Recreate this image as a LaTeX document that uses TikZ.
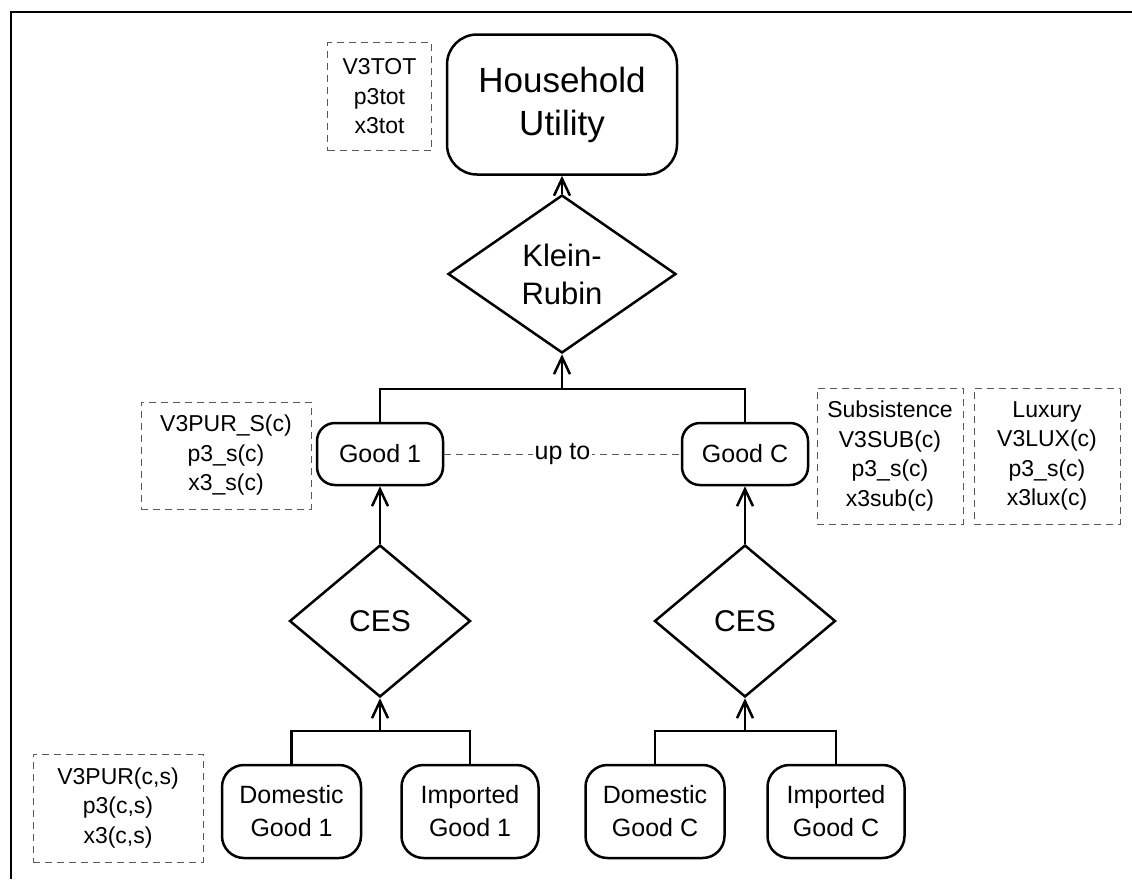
\documentclass[tikz,border=0pt]{standalone}
\usepackage{fontspec}
\setmainfont{Liberation Sans}
\usetikzlibrary{shapes.geometric,arrows.meta}

\tikzset{
  box/.style={draw, line width=2.5pt, rounded corners=18pt, align=center, inner sep=0pt},
  nest/.style={draw, diamond, line width=2.5pt, inner sep=0pt, align=center},
  info/.style={draw=black!65, line width=1pt, dash pattern=on 7pt off 5pt, align=center, inner sep=0pt,
    font=\fontsize{23}{29.5}\selectfont},
  link/.style={line width=2.5pt},
  >={Straight Barb[length=17pt,width=16pt,line width=2.5pt]}
}

\begin{document}
\begin{tikzpicture}[x=1pt,y=-1pt]
	\useasboundingbox (0,0) rectangle (1132,879);
	\draw[line width=2pt] (11,879) -- (11,12) -- (1132,12);

	% top level
	\node[box, rounded corners=30pt, minimum width=230pt, minimum height=140pt, font=\fontsize{35}{43}\selectfont] (util) at (562,104.5) {Household\\Utility};
	\node[info, minimum width=104pt, minimum height=108pt] (tot) at (379.5,96.5) {V3TOT\\p3tot\\x3tot};
	\node[nest, minimum width=228pt, minimum height=158pt, font=\fontsize{31}{38}\selectfont] (kr) at (562,274) {Klein-\\Rubin};
	\draw[link,->] (kr.north) -- (util.south);

	% composite goods
	\node[box, minimum width=126pt, minimum height=62pt, font=\fontsize{25}{32}\selectfont] (good1) at (380,454) {Good 1};
	\node[box, minimum width=126pt, minimum height=62pt, font=\fontsize{25}{32}\selectfont] (goodC) at (745,454) {Good C};
	\coordinate (join) at (562,389);
	\draw[link] (good1.north) |- (join) -| (goodC.north);
	\draw[link,->] (join) -- (kr.south);
	\draw[black!65, line width=1pt, dash pattern=on 7pt off 5pt] (good1.east) -- node[fill=white, text=black, inner sep=2pt, font=\fontsize{25}{32}\selectfont] (upto) {up to} (goodC.west);

	\node[info, minimum width=170pt, minimum height=107pt] (purs) at (226,455.5) {V3PUR\_S(c)\\p3\_s(c)\\x3\_s(c)};
	\node[info, minimum width=146pt, minimum height=136pt] (sub) at (890,456) {Subsistence\\V3SUB(c)\\p3\_s(c)\\x3sub(c)};
	\node[info, minimum width=146pt, minimum height=136pt] (lux) at (1047,456) {Luxury\\V3LUX(c)\\p3\_s(c)\\x3lux(c)};

	% CES nests
	\node[nest, minimum width=181pt, minimum height=152pt, font=\fontsize{30}{36}\selectfont] (ces1) at (380,621) {CES};
	\node[nest, minimum width=181pt, minimum height=152pt, font=\fontsize{30}{36}\selectfont] (cesC) at (745,621) {CES};
	\draw[link,->] (ces1.north) -- (good1.south);
	\draw[link,->] (cesC.north) -- (goodC.south);

	% domestic and imported sources
	\node[box, rounded corners=22pt, minimum width=139pt, minimum height=93pt, font=\fontsize{25}{33}\selectfont] (dom1) at (291.5,811.5) {Domestic\\Good 1};
	\node[box, rounded corners=22pt, minimum width=137pt, minimum height=93pt, font=\fontsize{25}{33}\selectfont] (imp1) at (470,811.5) {Imported\\Good 1};
	\node[box, rounded corners=22pt, minimum width=139pt, minimum height=93pt, font=\fontsize{25}{33}\selectfont] (domC) at (655,811.5) {Domestic\\Good C};
	\node[box, rounded corners=22pt, minimum width=137pt, minimum height=93pt, font=\fontsize{25}{33}\selectfont] (impC) at (836,811.5) {Imported\\Good C};
	\coordinate (join1) at (380,731);
	\coordinate (joinC) at (745,731);
	\draw[link] (dom1.north) |- (join1) -| (imp1.north);
	\draw[link,->] (join1) -- (ces1.south);
	\draw[link] (domC.north) |- (joinC) -| (impC.north);
	\draw[link,->] (joinC) -- (cesC.south);

	\node[info, minimum width=170pt, minimum height=108pt] (pur) at (118,808) {V3PUR(c,s)\\p3(c,s)\\x3(c,s)};
\end{tikzpicture}
\end{document}
